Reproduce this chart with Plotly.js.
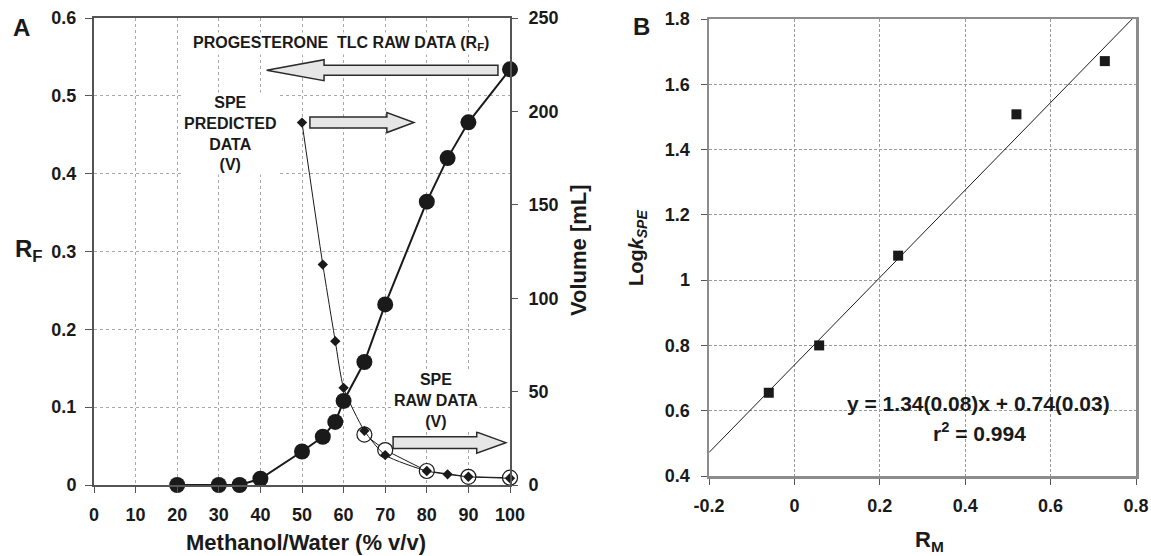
<!DOCTYPE html>
<html>
<head>
<meta charset="utf-8">
<script src="https://cdn.plot.ly/plotly-3.0.1.min.js"></script>
<style>html,body{margin:0;padding:0;background:#fff;}#chart{width:1151px;height:556px;}</style>
</head>
<body>
<div id="chart"></div>
<script>
// ---- Panel A data ----
const tlcX  = [20, 30, 35, 40, 50, 55, 58, 60, 65, 70, 80, 85, 90, 100];
const tlcRf = [0, 0, 0, 0.008, 0.043, 0.062, 0.081, 0.108, 0.158, 0.232, 0.364, 0.420, 0.466, 0.534];
const predX = [50, 55, 58, 60, 65, 70, 80, 85, 90, 100];
const predV = [194, 118, 77, 52, 29, 16, 7.5, 5.7, 4.4, 3.6];
const rawX  = [65, 70, 80, 90, 100];
const rawV  = [27, 18.7, 7.5, 4.4, 3.9];
const xTicksA = [0, 10, 20, 30, 40, 50, 60, 70, 80, 90, 100];

// ---- Panel B data ----
const rmX  = [-0.06, 0.058, 0.243, 0.52, 0.727];
const logK = [0.655, 0.800, 1.075, 1.508, 1.671];
const fitSlope = 1.34, fitIntercept = 0.74;
const fitXEnds = [-0.2, 0.791];
const xTickValsB = [-0.2, 0, 0.2, 0.4, 0.6, 0.8];
const xTickTextB = ["-0.2", "0", "0.2", "0.4", "0.6", "0.8"];

const FONT = "Liberation Sans, Arial, sans-serif";
const INK = "#1a1a1a";
const f = (size) => ({family: FONT, size: size, color: INK, weight: 700});

const traces = [
  {x: tlcX, y: tlcRf, xaxis: "x", yaxis: "y", mode: "lines+markers", cliponaxis: false,
   line: {color: INK, width: 2}, marker: {symbol: "circle", size: 16, color: INK}},
  {x: rawX, y: rawV, xaxis: "x", yaxis: "y2", mode: "lines+markers", cliponaxis: false,
   line: {color: INK, width: 1}, marker: {symbol: "circle", size: 15, color: "#fff", line: {color: INK, width: 1.2}}},
  {x: predX, y: predV, xaxis: "x", yaxis: "y2", mode: "lines+markers", cliponaxis: false,
   line: {color: INK, width: 1, shape: "spline", smoothing: 0.6}, marker: {symbol: "diamond", size: 8, color: INK}},
  {x: rmX, y: logK, xaxis: "x2", yaxis: "y3", mode: "markers", cliponaxis: false,
   marker: {symbol: "square", size: 10, color: INK}},
  {x: fitXEnds, y: fitXEnds.map(v => fitSlope * v + fitIntercept), xaxis: "x2", yaxis: "y3", mode: "lines",
   line: {color: INK, width: 1}}
];

function arrowPath(tail, base, tip, yc, bh, hh) {
  return `M${tail},${yc-bh} L${base},${yc-bh} L${base},${yc-hh} L${tip},${yc} L${base},${yc+hh} L${base},${yc+bh} L${tail},${yc+bh} Z`;
}
const arrowStyle = {type: "path", xref: "x", yref: "y", fillcolor: "#e6e6e6", line: {color: "#2b2b2b", width: 1.5}, layer: "above"};
const shapes = [
  Object.assign({path: arrowPath(97.1, 55.3, 41.5, 0.533, 0.0064, 0.0135)}, arrowStyle),
  Object.assign({path: arrowPath(51.9, 70.4, 76.9, 0.4657, 0.0071, 0.0129)}, arrowStyle),
  Object.assign({path: arrowPath(71.9, 92.0, 99.0, 0.0544, 0.0075, 0.0135)}, arrowStyle)
];

const W = 1151, H = 556;
const px = (v) => v / W, py = (v) => 1 - v / H;
const ann = (text, x, y, size, extra) => Object.assign({text: text, xref: "paper", yref: "paper",
  x: px(x), y: py(y), showarrow: false, font: f(size), xanchor: "center", yanchor: "middle"}, extra || {});

const annotations = [
  ann("A", 21, 27, 24),
  ann("B", 641, 26, 24),
  ann("PROGESTERONE  TLC RAW DATA (R<sub>F</sub>)", 341, 44, 16, {bgcolor: "#fff"}),
  ann("SPE<br>PREDICTED<br>DATA<br>(V)", 230, 133, 16, {bgcolor: "#fff"}),
  ann("SPE<br>RAW DATA<br>(V)", 436, 400, 16, {bgcolor: "#fff"}),
  ann("R<sub>F</sub>", 29, 250, 24),
  ann("Volume [mL]", 578, 250, 22, {textangle: -90}),
  ann("Methanol/Water (% v/v)", 306, 542, 22),
  ann("Log<i>k</i><sub><i>SPE</i></sub>", 637, 248, 20, {textangle: -90}),
  ann("R<sub>M</sub>", 929, 541, 22),
  ann("y = 1.34(0.08)x + 0.74(0.03)", 978, 403, 21),
  ann("r<sup>2</sup> = 0.994", 979, 432, 21)
];

const gridA = {showgrid: true, gridcolor: "#a8a8a8", gridwidth: 1, griddash: "dot"};
const gridB = {showgrid: true, gridcolor: "#9a9a9a", gridwidth: 1, griddash: "3px,2px"};

const layout = {
  width: W, height: H,
  margin: {l: 0, r: 0, t: 0, b: 0},
  paper_bgcolor: "#fff", plot_bgcolor: "#fff",
  showlegend: false,
  font: f(18),
  xaxis: Object.assign({domain: [px(94), px(510)], anchor: "y", range: [0, 100], tickvals: xTicksA,
    showline: true, linecolor: "#555", linewidth: 2, mirror: true, zeroline: false,
    ticks: "outside", ticklen: 6, tickcolor: "#555", tickfont: f(18), ticklabelstandoff: 6}, gridA),
  yaxis: Object.assign({domain: [py(485), py(18)], anchor: "x", range: [0, 0.6], dtick: 0.1,
    showline: true, linecolor: "#555", linewidth: 2, mirror: true, zeroline: false,
    ticks: "outside", ticklen: 7, tickcolor: "#555", tickfont: f(18), ticklabelstandoff: 5}, gridA),
  yaxis2: {overlaying: "y", side: "right", anchor: "x", range: [0, 250], dtick: 50, showgrid: false, zeroline: false,
    showline: true, linecolor: "#555", linewidth: 2,
    ticks: "outside", ticklen: 6, tickcolor: "#555", tickfont: f(18), ticklabelstandoff: 7},
  xaxis2: Object.assign({domain: [px(709), px(1136)], anchor: "y3", range: [-0.2, 0.8],
    tickvals: xTickValsB, ticktext: xTickTextB,
    showline: true, linecolor: "#8c8c8c", linewidth: 2.5, mirror: true, zeroline: false,
    ticks: "outside", ticklen: 6, tickcolor: "#555", tickfont: f(18), ticklabelstandoff: 6}, gridB),
  yaxis3: Object.assign({domain: [py(476), py(19)], anchor: "x2", range: [0.4, 1.8], dtick: 0.2,
    showline: true, linecolor: "#8c8c8c", linewidth: 2.5, mirror: true, zeroline: false,
    ticks: "outside", ticklen: 6, tickcolor: "#555", tickfont: f(18), ticklabelstandoff: 7}, gridB),
  shapes: shapes,
  annotations: annotations
};

Plotly.newPlot("chart", traces, layout, {displayModeBar: false, staticPlot: true});
</script>
</body>
</html>
